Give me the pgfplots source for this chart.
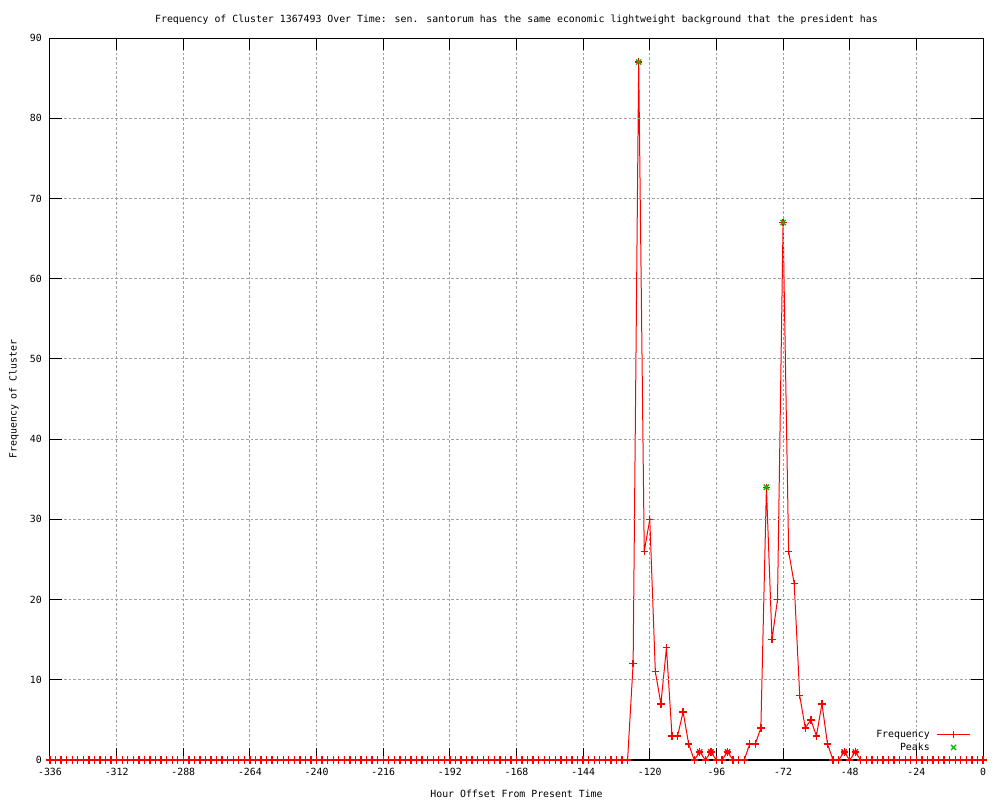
\documentclass[border=0pt]{standalone}
\usepackage{pgfplots}
\pgfplotsset{compat=1.18}
\usepackage{fontspec}
\setmainfont{DejaVu Sans Mono}
\definecolor{gpred}{RGB}{255,0,0}
\definecolor{gpgreen}{RGB}{0,192,0}
\definecolor{gridgray}{RGB}{160,160,160}
\begin{document}
\fontsize{7.4}{9}\selectfont
\begin{tikzpicture}
\path[use as bounding box] (0,0) rectangle (750pt,600pt);
\begin{axis}[
  at={(37.5pt,30pt)}, anchor=south west,
  scale only axis, width=699.75pt, height=541.5pt,
  xmin=-336, xmax=0, ymin=0, ymax=90,
  xtick={-336,-312,...,0}, ytick={0,10,...,90},
  /pgf/number format/assume math mode=true,
  clip=false, axis on top,
  tick align=inside, tick pos=both, major tick length=9pt,
  tick style={black, line width=0.75pt},
  axis line style={black, line width=0.75pt},
  grid=major,
  major grid style={gridgray, dash pattern=on 2pt off 1.5pt, line width=0.75pt},
  xticklabel style={inner sep=0pt, yshift=-6pt},
  yticklabel style={inner sep=0pt, xshift=-6pt},
  title={Frequency of Cluster 1367493 Over Time: sen. santorum has the same economic lightweight background that the president has},
  title style={at={(0.5,1)}, anchor=center, yshift=7.5pt, inner sep=0pt},
  xlabel={Hour Offset From Present Time},
  xlabel style={at={(0.5,0)}, anchor=center, yshift=-25pt, inner sep=0pt},
  ylabel={Frequency of Cluster},
  ylabel style={at={(0,0.5)}, anchor=center, yshift=27pt, inner sep=0pt},
  legend cell align=right, legend plot pos=right,
  legend style={draw=none, fill=none, at={(1,0)}, anchor=south east, xshift=-6pt, yshift=3.25pt,
    row sep=1.5pt, column sep=5pt, nodes={inner sep=0pt, text height=6pt, text depth=2pt}},
  legend image code/.code={\draw[mark repeat=2,mark phase=2,#1] plot coordinates {(0pt,0pt)(12.5pt,0pt)(25pt,0pt)};},
]
\addplot[color=gpred, line width=0.75pt, mark=+, mark size=2.75pt, every mark/.append style={solid, draw=gpred, line width=1pt}] coordinates {
(-336,0)(-334,0)(-332,0)(-330,0)(-328,0)(-326,0)(-324,0)(-322,0)(-320,0)(-318,0)
(-316,0)(-314,0)(-312,0)(-310,0)(-308,0)(-306,0)(-304,0)(-302,0)(-300,0)(-298,0)
(-296,0)(-294,0)(-292,0)(-290,0)(-288,0)(-286,0)(-284,0)(-282,0)(-280,0)(-278,0)
(-276,0)(-274,0)(-272,0)(-270,0)(-268,0)(-266,0)(-264,0)(-262,0)(-260,0)(-258,0)
(-256,0)(-254,0)(-252,0)(-250,0)(-248,0)(-246,0)(-244,0)(-242,0)(-240,0)(-238,0)
(-236,0)(-234,0)(-232,0)(-230,0)(-228,0)(-226,0)(-224,0)(-222,0)(-220,0)(-218,0)
(-216,0)(-214,0)(-212,0)(-210,0)(-208,0)(-206,0)(-204,0)(-202,0)(-200,0)(-198,0)
(-196,0)(-194,0)(-192,0)(-190,0)(-188,0)(-186,0)(-184,0)(-182,0)(-180,0)(-178,0)
(-176,0)(-174,0)(-172,0)(-170,0)(-168,0)(-166,0)(-164,0)(-162,0)(-160,0)(-158,0)
(-156,0)(-154,0)(-152,0)(-150,0)(-148,0)(-146,0)(-144,0)(-142,0)(-140,0)(-138,0)
(-136,0)(-134,0)(-132,0)(-130,0)(-128,0)
(-126,12)(-124,87)(-122,26)(-120,30)(-118,11)(-116,7)(-114,14)(-112,3)(-110,3)(-108,6)
(-106,2)(-104,0)(-102,1)(-100,0)(-98,1)(-96,0)(-94,0)(-92,1)(-90,0)(-88,0)
(-86,0)(-84,2)(-82,2)(-80,4)(-78,34)(-76,15)(-74,20)(-72,67)(-70,26)(-68,22)
(-66,8)(-64,4)(-62,5)(-60,3)(-58,7)(-56,2)(-54,0)(-52,0)(-50,1)(-48,0)
(-46,1)(-44,0)(-42,0)(-40,0)(-38,0)(-36,0)(-34,0)(-32,0)(-30,0)(-28,0)
(-26,0)(-24,0)(-22,0)(-20,0)(-18,0)(-16,0)(-14,0)(-12,0)(-10,0)(-8,0)
(-6,0)(-4,0)(-2,0)(0,0)
};
\addlegendentry{Frequency}
\addplot[only marks, color=gpgreen, mark=x, mark size=2.75pt, every mark/.append style={draw=gpgreen, line width=1pt}] coordinates {
(-124,87)(-78,34)(-72,67)
};
\addlegendentry{Peaks}
\addplot[only marks, color=gpred, mark=x, mark size=2.75pt, every mark/.append style={draw=gpred, line width=1pt}, forget plot] coordinates {
(-102,1)(-98,1)(-92,1)(-50,1)(-46,1)
};
\end{axis}
\end{tikzpicture}
\end{document}
